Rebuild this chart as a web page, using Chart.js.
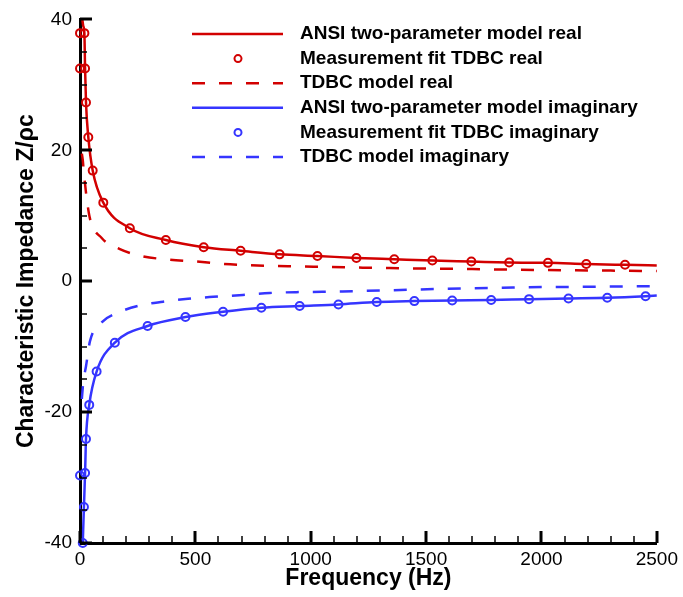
<!DOCTYPE html>
<html lang="en">
<head>
<meta charset="UTF-8">
<title>Characteristic Impedance</title>
<script src="https://cdn.jsdelivr.net/npm/chart.js"></script>
<style>
  body { margin: 0; background: #ffffff; }
  #wrap { width: 683px; height: 597px; }
</style>
</head>
<body>
<div id="wrap"><canvas id="grafico" width="683" height="597"></canvas></div>
<script>
// ANSI two-parameter model, real part
const ansiRealFreq = [10, 14, 19, 22, 26, 36, 55, 101, 216, 372, 536, 696, 865, 1029, 1198, 1362, 1527, 1696, 1860, 2028, 2194, 2362, 2500];
const ansiRealZ    = [40, 39, 37.9, 32.5, 27.3, 22.0, 16.9, 12.0, 8.1, 6.3, 5.2, 4.65, 4.1, 3.85, 3.55, 3.35, 3.15, 3.0, 2.85, 2.8, 2.63, 2.5, 2.4];

// measurement fit TDBC, real part
const measRealFreq = [0, 19, 0, 22, 26, 36, 55, 101, 216, 372, 536, 696, 865, 1029, 1198, 1362, 1527, 1696, 1860, 2028, 2194, 2362];
const measRealZ    = [37.9, 37.9, 32.5, 32.5, 27.3, 22.0, 16.9, 12.0, 8.1, 6.3, 5.2, 4.65, 4.1, 3.85, 3.55, 3.35, 3.15, 3.0, 2.85, 2.8, 2.63, 2.5];

// TDBC model, real part
const tdbcRealFreq = [8, 12, 17, 29, 43, 94, 173, 272, 389, 505, 620, 735, 908, 1081, 1225, 1340, 1600, 1850, 2100, 2300, 2500];
const tdbcRealZ    = [19.5, 18.5, 16.5, 12.7, 9.6, 6.6, 4.9, 3.8, 3.3, 3.0, 2.65, 2.45, 2.28, 2.17, 2.07, 2.0, 1.9, 1.78, 1.68, 1.62, 1.55];

// ANSI two-parameter model, imaginary part
const ansiImagFreq = [12, 17, 22, 26, 40, 72, 151, 293, 457, 620, 786, 952, 1120, 1286, 1449, 1613, 1782, 1946, 2117, 2285, 2451, 2500];
const ansiImagZ    = [-40, -34.5, -29.3, -24.1, -18.9, -13.8, -9.4, -6.84, -5.48, -4.67, -4.06, -3.8, -3.55, -3.19, -3.04, -2.94, -2.87, -2.74, -2.64, -2.54, -2.3, -2.2];

// measurement fit TDBC, imaginary part
const measImagFreq = [12, 17, 0, 22, 26, 40, 72, 151, 293, 457, 620, 786, 952, 1120, 1286, 1449, 1613, 1782, 1946, 2117, 2285, 2451];
const measImagZ    = [-40, -34.5, -29.7, -29.3, -24.1, -18.9, -13.8, -9.4, -6.84, -5.48, -4.67, -4.06, -3.8, -3.55, -3.19, -3.04, -2.94, -2.87, -2.74, -2.64, -2.54, -2.3];

// TDBC model, imaginary part
const tdbcImagFreq = [8, 14, 26, 43, 94, 166, 260, 360, 468, 577, 706, 822, 937, 1051, 1181, 1311, 1458, 1570, 1830, 1946, 2176, 2414, 2500];
const tdbcImagZ    = [-18, -15.5, -13, -9.2, -6.3, -4.8, -3.7, -3.14, -2.69, -2.39, -2.1, -1.8, -1.67, -1.62, -1.52, -1.42, -1.27, -1.17, -1.01, -0.93, -0.85, -0.78, -0.76];

const xTicks = [0, 500, 1000, 1500, 2000, 2500];
const yTicks = [-40, -20, 0, 20, 40];

const rojo = '#d20000';
const azul = '#3535ff';
const fuente = '"Liberation Sans", Arial, sans-serif';

function pares(fs, zs) {
    return fs.map((f, i) => ({ x: f, y: zs[i] }));
}

function curva(label, fs, zs, color, dash) {
    return {
        label: label,
        data: pares(fs, zs),
        borderColor: color,
        borderWidth: 2.5,
        borderDash: dash,
        pointRadius: 0,
        fill: false,
        cubicInterpolationMode: 'monotone'
    };
}

function puntos(label, fs, zs, color) {
    return {
        label: label,
        data: pares(fs, zs),
        showLine: false,
        borderColor: color,
        borderWidth: 2,
        pointRadius: 4,
        pointBorderWidth: 2,
        pointBorderColor: color,
        pointBackgroundColor: 'rgba(0,0,0,0)',
        clip: false
    };
}

// legend drawn as a column inside the plot: sample line / marker + bold label
const leyenda = {
    id: 'leyenda',
    afterDraw(chart) {
        const ctx = chart.ctx;
        ctx.save();
        ctx.font = 'bold 19px ' + fuente;
        ctx.textBaseline = 'middle';
        chart.data.datasets.forEach((ds, i) => {
            const y = 34 + i * 24.6;
            ctx.strokeStyle = ds.borderColor;
            ctx.lineWidth = ds.borderWidth;
            if (ds.showLine === false) {
                ctx.setLineDash([]);
                ctx.beginPath();
                ctx.arc(238, y, 3.5, 0, 2 * Math.PI);
                ctx.stroke();
            } else {
                ctx.setLineDash(ds.borderDash || []);
                ctx.beginPath();
                ctx.moveTo(192, y);
                ctx.lineTo(283, y);
                ctx.stroke();
            }
            ctx.fillStyle = '#000000';
            ctx.fillText(ds.label, 300, y);
        });
        ctx.restore();
    }
};

// inward major/minor tick marks on the left and bottom axes
const marcas = {
    id: 'marcas',
    afterDraw(chart) {
        const ctx = chart.ctx;
        const area = chart.chartArea;
        const sx = chart.scales.x;
        const sy = chart.scales.y;
        ctx.save();
        ctx.strokeStyle = '#000000';
        for (let v = sx.min; v <= sx.max; v += 100) {
            const mayor = v % 500 === 0;
            const px = Math.round(sx.getPixelForValue(v));
            ctx.lineWidth = mayor ? 3 : 1.5;
            ctx.beginPath();
            ctx.moveTo(px, area.bottom);
            ctx.lineTo(px, area.bottom - (mayor ? 12 : 7));
            ctx.stroke();
        }
        for (let v = sy.min; v <= sy.max; v += 5) {
            const mayor = v % 20 === 0;
            const py = Math.round(sy.getPixelForValue(v));
            ctx.lineWidth = mayor ? 3 : 1.5;
            ctx.beginPath();
            ctx.moveTo(area.left, py);
            ctx.lineTo(area.left + (mayor ? 12 : 7), py);
            ctx.stroke();
        }
        ctx.restore();
    }
};

const ctx = document.getElementById('grafico').getContext('2d');
new Chart(ctx, {
    type: 'line',
    data: {
        datasets: [
            curva('ANSI two-parameter model real', ansiRealFreq, ansiRealZ, rojo, []),
            puntos('Measurement fit TDBC real', measRealFreq, measRealZ, rojo),
            curva('TDBC model real', tdbcRealFreq, tdbcRealZ, rojo, [13, 14]),
            curva('ANSI two-parameter model imaginary', ansiImagFreq, ansiImagZ, azul, []),
            puntos('Measurement fit TDBC imaginary', measImagFreq, measImagZ, azul),
            curva('TDBC model imaginary', tdbcImagFreq, tdbcImagZ, azul, [13, 14])
        ]
    },
    options: {
        responsive: false,
        animation: false,
        layout: { padding: { top: 17, right: 25, left: 0, bottom: 0 } },
        plugins: {
            legend: { display: false },
            tooltip: { enabled: false }
        },
        scales: {
            x: {
                type: 'linear',
                min: 0,
                max: 2500,
                afterBuildTicks: (s) => { s.ticks = xTicks.map(v => ({ value: v })); },
                afterFit: (s) => { s.height = 54; },
                grid: { display: false, drawTicks: false },
                border: { display: true, color: '#000000', width: 3 },
                ticks: {
                    color: '#000000', padding: 5, maxRotation: 0,
                    font: { family: fuente, size: 19 },
                    callback: (v) => String(v)
                },
                title: {
                    display: true,
                    text: 'Frequency (Hz)',
                    color: '#000000',
                    font: { family: fuente, size: 23, weight: 'bold' },
                    padding: { top: 0, bottom: 5 }
                }
            },
            y: {
                type: 'linear',
                min: -40,
                max: 40,
                afterBuildTicks: (s) => { s.ticks = yTicks.map(v => ({ value: v })); },
                afterFit: (s) => { s.width = 80; },
                grid: { display: false, drawTicks: false },
                border: { display: true, color: '#000000', width: 3 },
                ticks: {
                    color: '#000000', padding: 8,
                    font: { family: fuente, size: 19 },
                    callback: (v) => String(v)
                },
                title: {
                    display: true,
                    text: 'Characteristic Impedance Z/ρc',
                    color: '#000000',
                    font: { family: fuente, size: 23, weight: 'bold' },
                    padding: { top: 13, bottom: 0 }
                }
            }
        }
    },
    plugins: [marcas, leyenda]
});
</script>
</body>
</html>
